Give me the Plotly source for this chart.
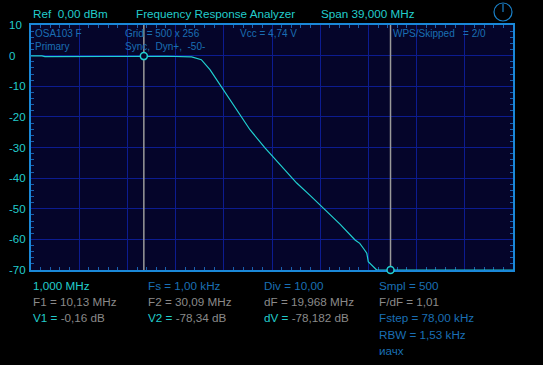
import plotly.graph_objects as go

# ---------------- data ----------------
freq_mhz = [1.00, 1.89, 2.13, 6.34, 6.50, 10.13, 12.00, 14.00, 14.78, 15.48, 16.29, 17.10, 17.91,
            18.72, 19.93, 21.20, 22.50, 23.60, 24.65, 26.00, 27.22, 27.60, 27.89, 28.17, 28.29,
            28.57, 28.97, 30.09, 35.00, 40.00]
level_db = [-0.10, -0.10, -0.35, -0.35, -0.15, -0.16, -0.20, -0.43, -1.32, -4.59, -9.49, -14.4, -19.3,
            -24.2, -30.1, -35.9, -41.6, -45.7, -49.8, -55.0, -60.2, -61.3, -62.9, -64.5, -67.3,
            -68.4, -70.0, -70.0, -70.0, -70.0]
marker_f = [10.13, 30.09]
marker_v_display = [-0.16, -70.0]
y_ticks = [10, 0, -10, -20, -30, -40, -50, -60, -70]
f_start, f_stop = 1.0, 40.0
y_min, y_max = -70, 10

header = ["Ref&nbsp;&nbsp;0,00 dBm", "Frequency Response Analyzer", "Span 39,000 MHz"]
inner_rows = [["OSA103 F", "Grid = 500 x 256", "Vcc = 4,74 V", "WPS/Skipped&nbsp;&nbsp;&nbsp;= 2/0"],
              ["Primary", "Sync,&nbsp;&nbsp;Dyn+,&nbsp;&nbsp;-50-", "", ""]]

CYAN = "#22cccc"
BLUE = "#1a6fb4"
GRAY = "#8a8a8a"

def c(t, col):
    return f"<span style='color:{col}'>{t}</span>"

bottom_rows = [
    [c("1,000 MHz", CYAN), c("Fs = 1,00 kHz", BLUE), c("Div = 10,00", BLUE), c("Smpl = 500", BLUE)],
    [c("F1 = 10,13 MHz", GRAY), c("F2 = 30,09 MHz", GRAY), c("dF = 19,968 MHz", GRAY), c("F/dF = 1,01", GRAY)],
    [c("V1 = ", CYAN) + c("-0,16 dB", GRAY), c("V2 = ", CYAN) + c("-78,34 dB", GRAY),
     c("dV = ", CYAN) + c("-78,182 dB", GRAY), c("Fstep = 78,00 kHz", BLUE)],
    ["", "", "", c("RBW = 1,53 kHz", BLUE)],
    ["", "", "", c("иачх", BLUE)],
]

# ---------------- layout helpers ----------------
W, H = 543, 365
L, R, T, B = 31, 513, 25, 270

def px(x):
    return (x - L) / (R - L)

def py(y):
    return (B - y) / (B - T)

FONT = "Liberation Sans"

fig = go.Figure()

# marker vertical lines
for f in marker_f:
    fig.add_trace(go.Scatter(x=[f, f], y=[y_min, y_max], mode="lines",
                             line=dict(color="#9a9a9a", width=1.5), hoverinfo="skip", showlegend=False))

fig.add_trace(go.Scatter(x=freq_mhz, y=level_db, mode="lines",
                         line=dict(color="#20d0d0", width=1.2), showlegend=False))

fig.add_trace(go.Scatter(x=marker_f, y=marker_v_display, mode="markers",
                         marker=dict(symbol="circle", size=7, color="#05052a",
                                     line=dict(color="#20d0d0", width=1.5)),
                         cliponaxis=False, showlegend=False))

ann = []
# header
for t, x in zip(header, [31, 134, 319]):
    ann.append(dict(text=t, x=px(x), y=py(13), xref="paper", yref="paper", xanchor="left",
                    yanchor="middle", showarrow=False, font=dict(family=FONT, size=11.7, color=CYAN)))
# inner texts
cols_inner = [33, 123, 238, 391]
for r, row in enumerate(inner_rows):
    for t, x in zip(row, cols_inner):
        if t:
            ann.append(dict(text=t, x=px(x), y=py(33.5 + 13 * r), xref="paper", yref="paper",
                            xanchor="left", yanchor="middle", showarrow=False,
                            font=dict(family=FONT, size=10, color=BLUE)))
# y tick labels (left-aligned, like the instrument)
for v in y_ticks:
    ann.append(dict(text=str(v), x=px(7), y=v, xref="paper", yref="y", xanchor="left",
                    yanchor="middle", showarrow=False, font=dict(family=FONT, size=11.5, color=CYAN)))
# bottom info block
cols_b = [31, 146, 262, 377]
for r, row in enumerate(bottom_rows):
    for t, x in zip(row, cols_b):
        if t:
            ann.append(dict(text=t, x=px(x), y=py(285 + 16.4 * r), xref="paper", yref="paper",
                            xanchor="left", yanchor="middle", showarrow=False,
                            font=dict(family=FONT, size=11.7, color=BLUE)))

shapes = [
    dict(type="circle", xref="paper", yref="paper", x0=px(494), x1=px(512), y0=py(21), y1=py(3),
         line=dict(color="#1a80c8", width=1.2)),
    dict(type="line", xref="paper", yref="paper", x0=px(503), x1=px(503), y0=py(12), y1=py(4),
         line=dict(color="#1a80c8", width=1.2)),
]

axis_common = dict(showline=True, linecolor="#1a88d8", linewidth=2, mirror="allticks",
                   gridcolor="#0c1c90", gridwidth=1.2, zeroline=False, showticklabels=False,
                   ticks="", layer="below traces")

fig.update_layout(
    width=W, height=H, margin=dict(l=L, r=W - R, t=T, b=H - B),
    paper_bgcolor="#000000", plot_bgcolor="#05052a",
    annotations=ann, shapes=shapes, showlegend=False,
    xaxis=dict(range=[f_start, f_stop], tick0=f_start, dtick=(f_stop - f_start) / 10,
               minor=dict(ticks="inside", ticklen=3, tickcolor="#1a60b0", dtick=(f_stop - f_start) / 50,
                          tick0=f_start, showgrid=False),
               **axis_common),
    yaxis=dict(range=[y_min, y_max], tick0=0, dtick=10,
               minor=dict(ticks="inside", ticklen=3, tickcolor="#1a60b0", dtick=2, showgrid=False),
               **axis_common),
)

fig.write_html("out.html")
